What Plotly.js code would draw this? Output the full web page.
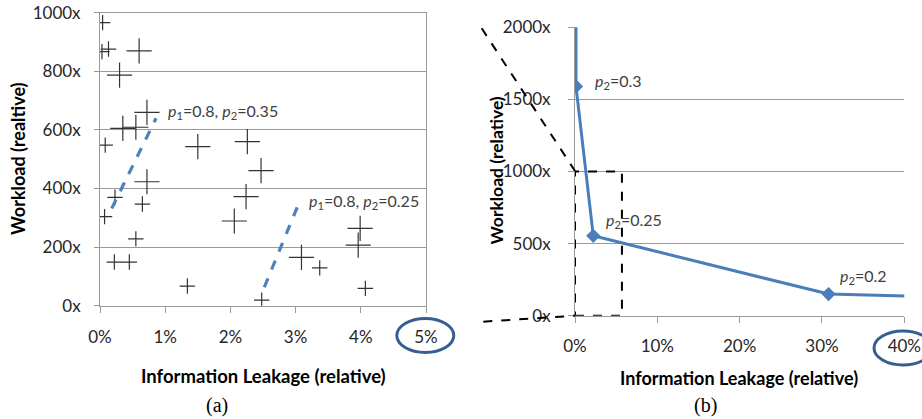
<!DOCTYPE html>
<html>
<head>
<meta charset="utf-8">
<script src="https://cdn.plot.ly/plotly-3.0.1.min.js"></script>
<style>html,body{margin:0;padding:0;background:#fff;}#chart{width:922px;height:419px;}</style>
</head>
<body>
<div id="chart"></div>
<script>
// ---- Panel (a): scatter of configurations ----
const leakA_big = [0.60, 0.30, 0.72, 0.35, 0.55, 1.50, 2.26, 2.47, 0.72, 2.24, 2.06, 3.99, 3.96, 3.09];
const workA_big = [870, 787, 660, 605, 609, 543, 560, 461, 423, 372, 289, 264, 207, 165];
const leakA_small = [0.04, 0.03, 0.13, 0.08, 0.23, 0.65, 0.07, 0.55, 0.22, 0.45, 3.37, 1.34, 4.07, 2.48];
const workA_small = [966, 867, 876, 548, 370, 347, 304, 228, 149, 149, 129, 67, 59, 19];
// dashed guide lines in panel (a)
const guide1_x = [0.18, 0.86], guide1_y = [332, 640];
const guide2_x = [2.52, 3.04], guide2_y = [63, 344];
const labelsA = ["<i>p</i><sub>1</sub>=0.8, <i>p</i><sub>2</sub>=0.35", "<i>p</i><sub>1</sub>=0.8, <i>p</i><sub>2</sub>=0.25"];
const labelsA_x = [1.01, 3.17], labelsA_y = [664, 355];
const ticksA_x = [0, 1, 2, 3, 4, 5];
const ticksA_xtext = ["0%", "1%", "2%", "3%", "4%", "5%"];
const ticksA_y = [0, 200, 400, 600, 800, 1000];
const ticksA_ytext = ["0x", "200x", "400x", "600x", "800x", "1000x"];

// ---- Panel (b): trade-off curve ----
const leakB = [0.12, 0.12, 2.22, 30.8, 41];
const workB = [2600, 1590, 554, 150, 135];
const labelsB = ["<i>p</i><sub>2</sub>=0.3", "<i>p</i><sub>2</sub>=0.25", "<i>p</i><sub>2</sub>=0.2"];
const labelsB_x = [2.19, 3.52, 31.96], labelsB_y = [1622, 658, 275];
const ticksB_x = [0, 10, 20, 30, 40];
const ticksB_xtext = ["0%", "10%", "20%", "30%", "40%"];
const ticksB_y = [0, 500, 1000, 1500, 2000];
const ticksB_ytext = ["0x", "500x", "1000x", "1500x", "2000x"];
const zoomBox_x = [0, 5.7], zoomBox_y = [0, 1000];

const W = 922, H = 419;
const px = v => v / W, py = v => 1 - v / H;

const FONT = "Lato, 'Open Sans', sans-serif";
const TXT = "#262626";
const GRID = "#9a9a9a";
const BLUE = "#4a7ebb";

const traces = [
  {x: leakA_big, y: workA_big, type: "scatter", mode: "markers", xaxis: "x", yaxis: "y",
   marker: {symbol: "cross-thin", size: 18, line: {width: 1.2, color: "#333"}}, hoverinfo: "x+y"},
  {x: leakA_small, y: workA_small, type: "scatter", mode: "markers", xaxis: "x", yaxis: "y",
   marker: {symbol: "cross-thin", size: 11, line: {width: 1.2, color: "#333"}}, hoverinfo: "x+y"},
  {x: guide1_x, y: guide1_y, type: "scatter", mode: "lines", xaxis: "x", yaxis: "y",
   line: {color: "#4f81bd", width: 3.2, dash: "dash"}, hoverinfo: "skip"},
  {x: guide2_x, y: guide2_y, type: "scatter", mode: "lines", xaxis: "x", yaxis: "y",
   line: {color: "#4f81bd", width: 3.2, dash: "dash"}, hoverinfo: "skip"},
  {x: leakB, y: workB, type: "scatter", mode: "lines+markers", xaxis: "x2", yaxis: "y2",
   line: {color: BLUE, width: 3}, marker: {symbol: "diamond", size: 11, color: BLUE}, hoverinfo: "x+y"}
];

const axisCommon = {
  showgrid: false, zeroline: false, showline: true, linecolor: GRID, linewidth: 1,
  ticks: "outside", tickcolor: GRID, ticklen: 6, tickwidth: 1, tickmode: "array",
  tickfont: {family: FONT, size: 17, color: TXT}, fixedrange: true
};

const layout = {
  width: W, height: H,
  margin: {l: 0, r: 0, t: 0, b: 0},
  paper_bgcolor: "#fff", plot_bgcolor: "#fff",
  showlegend: false,
  font: {family: FONT, color: TXT},
  xaxis: Object.assign({}, axisCommon, {
    domain: [px(100), px(426)], range: [0, 5], tickvals: ticksA_x, ticktext: ticksA_xtext,
    mirror: true, ticklabelstandoff: 10, anchor: "y"
  }),
  yaxis: Object.assign({}, axisCommon, {
    domain: [py(305.7), py(12.7)], range: [0, 1000], tickvals: ticksA_y, ticktext: ticksA_ytext,
    showgrid: true, gridcolor: GRID, gridwidth: 1, ticklen: 5,
    mirror: true, ticklabelstandoff: 10, anchor: "x"
  }),
  xaxis2: Object.assign({}, axisCommon, {
    domain: [px(575), px(904.3)], range: [0, 40], tickvals: ticksB_x, ticktext: ticksB_xtext,
    ticklabelstandoff: 9, anchor: "y2"
  }),
  yaxis2: Object.assign({}, axisCommon, {
    domain: [py(315.7), py(27.3)], range: [0, 2000], tickvals: ticksB_y, ticktext: ticksB_ytext,
    showgrid: true, gridcolor: GRID, gridwidth: 1,
    ticklabelstandoff: 14, anchor: "x2"
  }),
  shapes: [
    {type: "rect", xref: "x2", yref: "y2", x0: zoomBox_x[0], x1: zoomBox_x[1], y0: zoomBox_y[0], y1: zoomBox_y[1],
     line: {color: "#000", width: 2, dash: "dash"}, layer: "above"},
    {type: "line", xref: "paper", yref: "paper", x0: px(481.7), y0: py(28.3), x1: px(575), y1: py(171),
     line: {color: "#000", width: 2, dash: "dash"}},
    {type: "line", xref: "paper", yref: "paper", x0: px(483.3), y0: py(321.7), x1: px(575), y1: py(315.7),
     line: {color: "#000", width: 2, dash: "dash"}},
    {type: "circle", xref: "paper", yref: "paper", x0: px(396.8), x1: px(453.8), y0: py(352.5), y1: py(318.5),
     line: {color: "#365f91", width: 3}},
    {type: "circle", xref: "paper", yref: "paper", x0: px(874), x1: px(932), y0: py(365), y1: py(331),
     line: {color: "#365f91", width: 3}}
  ],
  annotations: []
};

labelsA.forEach((t, i) => layout.annotations.push({
  xref: "x", yref: "y", x: labelsA_x[i], y: labelsA_y[i], text: t, showarrow: false,
  xanchor: "left", yanchor: "middle", font: {family: FONT, size: 16, color: "#404040"}
}));
labelsB.forEach((t, i) => layout.annotations.push({
  xref: "x2", yref: "y2", x: labelsB_x[i], y: labelsB_y[i], text: t, showarrow: false,
  xanchor: "left", yanchor: "middle", font: {family: FONT, size: 16, color: "#404040"}
}));
const titles = [
  {text: "<b>Information Leakage (relative)</b>", x: px(263), y: py(375.7), angle: 0, size: 18.5, fam: FONT},
  {text: "<b>Information Leakage (relative)</b>", x: px(739), y: py(378.3), angle: 0, size: 18, fam: FONT},
  {text: "<b>Workload (realtive)</b>", x: px(18), y: py(159), angle: -90, size: 18, fam: FONT},
  {text: "<b>Workload (relative)</b>", x: px(496.5), y: py(171), angle: -90, size: 17.5, fam: FONT},
  {text: "(a)", x: px(217), y: py(405), angle: 0, size: 20, fam: "'Liberation Serif', 'DejaVu Serif', serif"},
  {text: "(b)", x: px(705.5), y: py(405), angle: 0, size: 20, fam: "'Liberation Serif', 'DejaVu Serif', serif"}
];
titles.forEach(t => layout.annotations.push({
  xref: "paper", yref: "paper", x: t.x, y: t.y, text: t.text, textangle: t.angle, showarrow: false,
  xanchor: "center", yanchor: "middle", font: {family: t.fam, size: t.size, color: "#000"}
}));

Plotly.newPlot("chart", traces, layout, {staticPlot: true, displayModeBar: false});
</script>
</body>
</html>
